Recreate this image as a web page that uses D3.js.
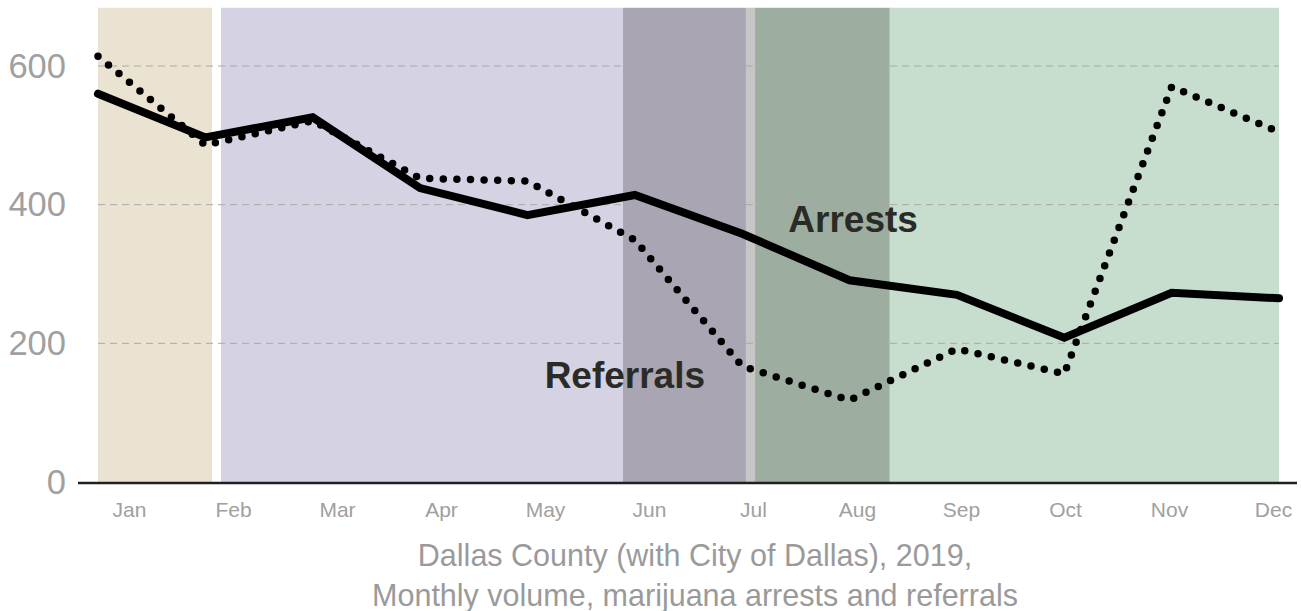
<!DOCTYPE html>
<html>
<head>
<meta charset="utf-8">
<script src="https://cdn.jsdelivr.net/npm/d3@7"></script>
<style>
  body { margin: 0; background: #fff; }
  text { font-family: "Liberation Sans", Arial, sans-serif; }
</style>
</head>
<body>
<svg id="chart" width="1301" height="611"></svg>
<script>
'use strict';
// monthly volume
const months = ["Jan", "Feb", "Mar", "Apr", "May", "Jun", "Jul", "Aug", "Sep", "Oct", "Nov", "Dec"];
const arrests = [560, 497, 526, 424, 385, 414, 358, 291, 270, 208, 273, 265];
const referrals = [614, 486, 521, 438, 434, 349, 167, 118, 192, 156, 570, 505];
const yTicks = [0, 200, 400, 600];
const yMax = 684;

// shaded periods, in month index units
const bandStart = [0, 1.145, 4.89, 6.035, 6.12, 7.375];
const bandEnd = [1.062, 4.89, 6.035, 6.12, 7.375, 11];
const bandColor = ["#ebe3d1", "#d5d2e4", "#a9a5b2", "#c6c6c6", "#9dada0", "#c7ddcd"];

const titleLines = ["Dallas County (with City of Dallas), 2019,", "Monthly volume, marijuana arrests and referrals"];

let svg = d3.select("#chart");

let x = d3.scaleLinear().domain([0, months.length - 1]).range([98, 1279]);
let y = d3.scaleLinear().domain([0, 600]).range([482, 66]);
let xLabel = d3.scalePoint().domain(months).range([129, 1273]);

// bands
svg.append("g").selectAll("rect")
    .data(bandStart)
    .enter().append("rect")
    .attr("x", (d, i) => x(d))
    .attr("width", (d, i) => x(bandEnd[i]) - x(d))
    .attr("y", y(yMax))
    .attr("height", y(0) - y(yMax))
    .attr("fill", (d, i) => bandColor[i]);

// grid
svg.append("g").selectAll("line")
    .data(yTicks.filter(d => d > 0))
    .enter().append("line")
    .attr("x1", x(0))
    .attr("x2", x(11))
    .attr("y1", d => y(d))
    .attr("y2", d => y(d))
    .attr("stroke", "#a9a9a9")
    .attr("stroke-width", 1)
    .attr("stroke-dasharray", "7,5");

// y labels
let yAxis = svg.append("g")
    .attr("transform", "translate(" + x(0) + ",0)")
    .call(d3.axisLeft(y).tickValues(yTicks).tickSize(0).tickPadding(32).tickFormat(d3.format("d")));
yAxis.select(".domain").remove();
yAxis.selectAll("text")
    .attr("fill", "#a0a0a0")
    .style("font-size", "34.5px")
    .style("font-family", "'Liberation Sans', Arial, sans-serif");

// x labels
let xAxis = svg.append("g")
    .attr("transform", "translate(0," + y(0) + ")")
    .call(d3.axisBottom(xLabel).tickSize(0).tickPadding(20));
xAxis.select(".domain").remove();
xAxis.selectAll("text")
    .attr("fill", "#a0a0a0")
    .style("font-size", "21px")
    .style("font-family", "'Liberation Sans', Arial, sans-serif");

// base line
svg.append("line")
    .attr("x1", 78)
    .attr("x2", 1297)
    .attr("y1", y(0) + 1)
    .attr("y2", y(0) + 1)
    .attr("stroke", "#231f20")
    .attr("stroke-width", 2.5);

let line = d3.line()
    .x((d, i) => x(i))
    .y(d => y(d));

svg.append("path")
    .attr("d", line(referrals))
    .attr("fill", "none")
    .attr("stroke", "#000")
    .attr("stroke-width", 7.5)
    .attr("stroke-linecap", "round")
    .attr("stroke-dasharray", "0,13.6");

svg.append("path")
    .attr("d", line(arrests))
    .attr("fill", "none")
    .attr("stroke", "#000")
    .attr("stroke-width", 8)
    .attr("stroke-linecap", "round")
    .attr("stroke-linejoin", "miter");

// series labels
svg.append("text")
    .attr("x", x(6.43))
    .attr("y", y(361))
    .attr("fill", "#2a2b26")
    .style("font-size", "37px")
    .style("font-weight", "bold")
    .text("Arrests");

svg.append("text")
    .attr("x", x(4.16))
    .attr("y", y(136))
    .attr("fill", "#2a2b26")
    .style("font-size", "37px")
    .style("font-weight", "bold")
    .text("Referrals");

// title under the chart
svg.append("g").selectAll("text")
    .data(titleLines)
    .enter().append("text")
    .attr("x", 695)
    .attr("y", (d, i) => 566 + i * 40)
    .attr("text-anchor", "middle")
    .attr("fill", "#9a9a9a")
    .style("font-size", "30.5px")
    .text(d => d);
</script>
</body>
</html>
